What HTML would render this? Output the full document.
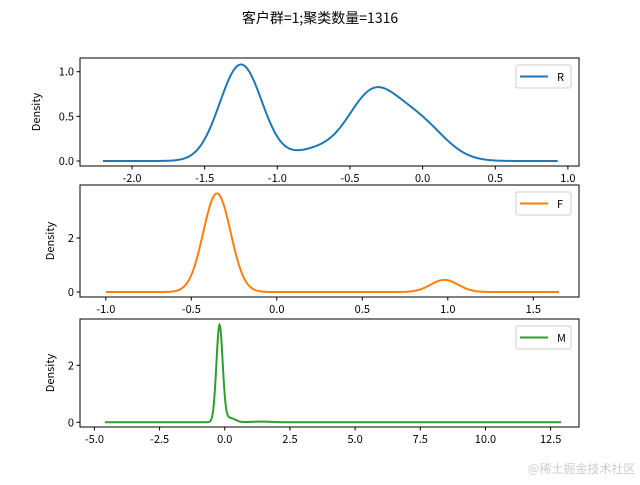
<!DOCTYPE html>
<html><head><meta charset="utf-8"><style>
body{margin:0;background:#fff;}
svg text{font-family:"WenQuanYi Zen Hei","Noto Sans CJK SC",sans-serif;fill:#000;}
</style></head><body>
<svg id="s" width="640" height="480" xmlns="http://www.w3.org/2000/svg">
<text x="320" y="23" font-size="14" text-anchor="middle">客户群=1;聚类数量=1316</text>
<text x="528" y="473" font-size="12" style="fill:#ccc">@稀土掘金技术社区</text>
</svg>
<script>
const s=document.getElementById('s');
function add(t,a,txt){const e=document.createElementNS('http://www.w3.org/2000/svg',t);for(const k in a)e.setAttribute(k,a[k]);if(txt!==undefined)e.textContent=txt;s.appendChild(e);return e;}
function g(x,m,sd,a){return a*Math.exp(-(x-m)*(x-m)/(2*sd*sd));}
function panel(o){
  const L=80,R=579;
  const X=v=>o.x0+(v-o.xv0)*o.xs, Y=v=>o.y0-v*o.ys;
  let d='';
  for(let i=0;i<=800;i++){const x=o.lo+(o.hi-o.lo)*i/800;d+=(i?'L':'M')+X(x).toFixed(2)+' '+Y(o.f(x)).toFixed(2);}
  add('path',{d:d,fill:'none',stroke:o.c,'stroke-width':2});
  add('rect',{x:L,y:o.top,width:R-L,height:o.bot-o.top,fill:'none',stroke:'#000','stroke-width':1});
  o.xt.forEach(v=>{const x=X(v);add('line',{x1:x,x2:x,y1:o.bot,y2:o.bot+3.5,stroke:'#000'});add('text',{x:x,y:o.bot+16,'font-size':11,'text-anchor':'middle'},v.toFixed(1));});
  o.yt.forEach(v=>{const y=Y(v);add('line',{x1:L,x2:L-3.5,y1:y,y2:y,stroke:'#000'});add('text',{x:L-6,y:y+4,'font-size':11,'text-anchor':'end'},o.yl(v));});
  add('text',{x:0,y:0,'font-size':11,'text-anchor':'middle',transform:`translate(${o.dx},${(o.top+o.bot)/2}) rotate(-90)`},'Density');
  add('rect',{x:516,y:o.top+7,width:55,height:23,rx:2,fill:'#fff',stroke:'#ccc'});
  add('line',{x1:520,x2:548,y1:o.top+18.5,y2:o.top+18.5,stroke:o.c,'stroke-width':2});
  add('text',{x:557,y:o.top+23,'font-size':11},o.n);
}
panel({n:'R',c:'#1f77b4',top:58,bot:166,x0:132,xv0:-2,xs:145.3,y0:161,ys:89.3,lo:-2.2,hi:0.93,
 f:x=>g(x,-1.25,0.145,1.08)+g(x,-0.35,0.17,0.72)+g(x,-0.03,0.18,0.42)+g(x,-0.75,0.15,0.11),
 xt:[-2,-1.5,-1,-0.5,0,0.5,1],yt:[0,0.5,1],yl:v=>v.toFixed(1),dx:40});
panel({n:'F',c:'#ff7f0e',top:185,bot:297,x0:105.8,xv0:-1,xs:171,y0:292,ys:27,lo:-1,hi:1.65,
 f:x=>g(x,-0.35,0.08,3.65)+g(x,0.98,0.08,0.45),
 xt:[-1,-0.5,0,0.5,1,1.5],yt:[0,2],yl:v=>v.toFixed(0),dx:54});
panel({n:'M',c:'#2ca02c',top:319,bot:427,x0:94.4,xv0:-5,xs:26.07,y0:422.3,ys:28.5,lo:-4.6,hi:12.9,
 f:x=>g(x,-0.2,0.12,3.4)+g(x,0.2,0.2,0.15)+g(x,1.4,0.4,0.025),
 xt:[-5,-2.5,0,2.5,5,7.5,10,12.5],yt:[0,2],yl:v=>v.toFixed(0),dx:54});
</script>
</body></html>
